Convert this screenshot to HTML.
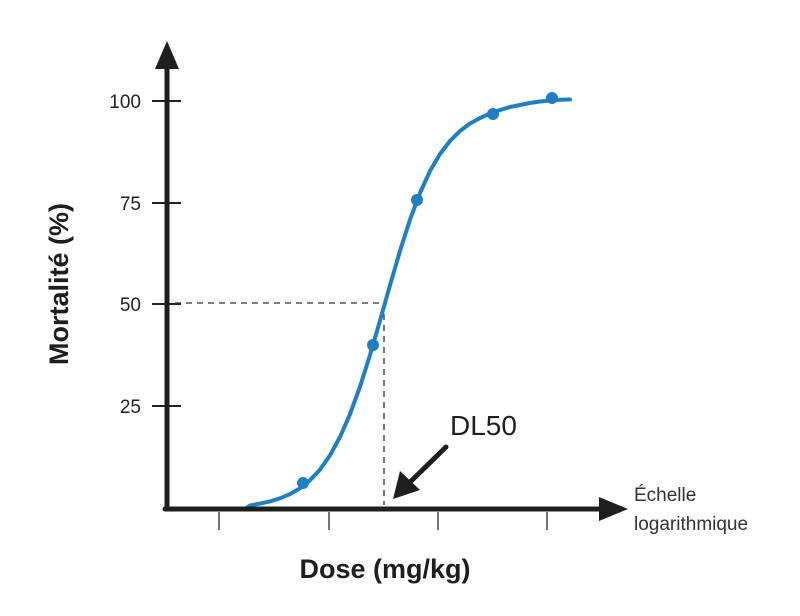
<!DOCTYPE html>
<html><head><meta charset="utf-8"><style>html,body{margin:0;padding:0;background:#fff}</style></head>
<body>
<svg width="800" height="611" xmlns="http://www.w3.org/2000/svg" font-family="'Liberation Sans', sans-serif">
<g stroke="#222" stroke-width="2">
<line x1="152" y1="101" x2="181" y2="101"/><line x1="152" y1="203" x2="181" y2="203"/>
<line x1="152" y1="304" x2="181" y2="304"/><line x1="152" y1="406" x2="181" y2="406"/>
</g>
<g stroke="#444" stroke-width="1.5">
<line x1="219" y1="512" x2="219" y2="530"/><line x1="329" y1="512" x2="329" y2="530"/>
<line x1="438" y1="512" x2="438" y2="530"/><line x1="547" y1="512" x2="547" y2="530"/>
</g>
<g stroke="#333" stroke-width="1.3" stroke-dasharray="6,5" fill="none">
<line x1="175" y1="303" x2="385" y2="303"/><line x1="384" y1="303" x2="384" y2="505"/>
</g>
<polyline fill="none" stroke="#1f7fc4" stroke-width="4" stroke-linecap="round" points="245,509 250,505.5 260,503.6 270,501.4 280,498.3 290,494.1 300,488.3 310,480.3 320,469.6 330,455.3 340,437 350,414.2 360,386.7 370,355.1 380,320.7 390,285.3 400,251 410,219.6 420,193 430,171 440,154 450,141 460,131 470,123.5 480,118 490,113.5 500,110 510,107 520,105 530,103 540,101.5 550,100.5 560,99.8 570,99.5"/>
<g fill="#1f7fc4">
<circle cx="303" cy="483" r="6"/><circle cx="373" cy="345" r="6"/><circle cx="417" cy="200" r="6"/>
<circle cx="493" cy="114" r="6"/><circle cx="552" cy="98" r="6"/>
</g>
<g stroke="#1e1e1e" stroke-width="5" fill="none" stroke-linecap="round">
<line x1="167" y1="62" x2="167" y2="509"/><line x1="165" y1="509" x2="605" y2="509"/>
<line x1="446" y1="447" x2="405" y2="487"/>
</g>
<g fill="#1e1e1e">
<polygon points="167,41 155,69 179,69"/>
<polygon points="628,509 599,497 599,521"/>
<polygon points="393,499 400,471 420,490"/>
</g>
<g font-size="19" fill="#222" text-anchor="end">
<text x="141" y="108">100</text><text x="141" y="210">75</text>
<text x="141" y="311">50</text><text x="141" y="413">25</text>
</g>
<text x="0" y="0" transform="translate(68,284) rotate(-90)" text-anchor="middle" font-size="27" font-weight="bold" fill="#1e1e1e">Mortalité (%)</text>
<text x="385" y="578" text-anchor="middle" font-size="27" font-weight="bold" fill="#1e1e1e">Dose (mg/kg)</text>
<text x="450" y="435" font-size="28" fill="#1e1e1e">DL50</text>
<text x="634" y="501" font-size="19" fill="#333">Échelle</text>
<text x="634" y="530" font-size="19" fill="#333">logarithmique</text>
</svg>
</body></html>
